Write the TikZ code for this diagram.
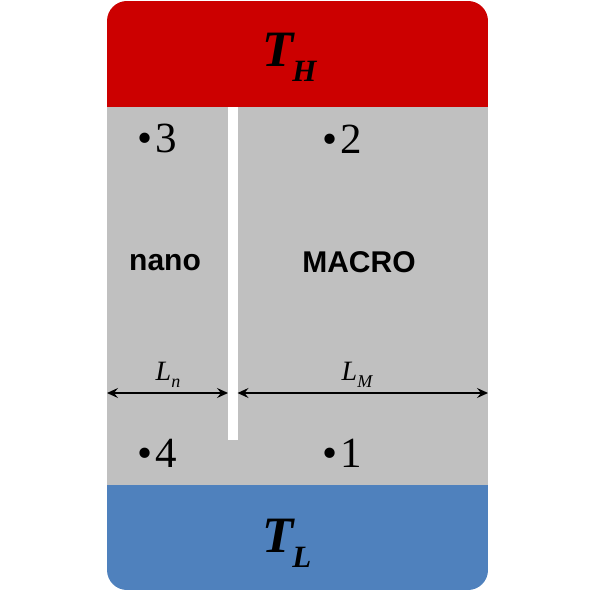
\documentclass[tikz,border=0pt]{standalone}
\usepackage{fontspec}
\setmainfont{Liberation Serif}
\setsansfont{Liberation Sans}
\usetikzlibrary{arrows.meta}
\definecolor{hotred}{HTML}{CC0000}
\definecolor{coldblue}{HTML}{4F81BD}
\definecolor{cellgray}{HTML}{C0C0C0}
\tikzset{
  dimarrow/.style={{Stealth[length=11pt,width=10pt,inset=4pt]}-{Stealth[length=11pt,width=10pt,inset=4pt]},
    line width=1.3pt, draw=black},
  templabel/.style={anchor=base west, inner sep=0pt,
    font=\fontsize{51}{51}\selectfont\bfseries\itshape},
  pointlabel/.style={anchor=base west, inner sep=0pt,
    font=\fontsize{43}{43}\selectfont},
  regionlabel/.style={anchor=base, inner sep=0pt,
    font=\fontsize{30}{30}\selectfont\sffamily\bfseries},
  lenlabel/.style={anchor=base, inner sep=0pt,
    font=\fontsize{28}{28}\selectfont\itshape}
}
\newcommand{\tsub}[1]{\kern-1pt\raisebox{-15pt}{\fontsize{31}{31}\selectfont #1}}
\newcommand{\lsub}[1]{\raisebox{-7pt}{\fontsize{18}{18}\selectfont #1}}

\begin{document}
\begin{tikzpicture}[x=1pt,y=-1pt]
  \useasboundingbox (0,0) rectangle (593,593);
  % reservoirs and cell
  \begin{scope}
    \clip[rounded corners=20pt] (107,1) rectangle (488,590);
    \fill[hotred] (107,1) rectangle (488,107);
    \fill[cellgray] (107,107) rectangle (488,485);
    \fill[coldblue] (107,485) rectangle (488,590);
  \end{scope}
  \fill[white] (228,107) rectangle (237.5,440);

  \node[templabel] (th) at (262,67) {T\tsub{H}};
  \node[templabel] (tl) at (262,552) {T\tsub{L}};

  \node[pointlabel] (p3) at (137,153) {•\kern3pt 3};
  \node[pointlabel] (p2) at (322,154) {•\kern3pt 2};
  \node[pointlabel] (p4) at (137,467) {•\kern3pt 4};
  \node[pointlabel] (p1) at (322,467) {•\kern3pt 1};

  \node[regionlabel] (nano) at (165,270) {nano};
  \node[regionlabel] (macro) at (359,272) {MACRO};

  % widths
  \coordinate (celll) at (107,393);
  \coordinate (wallw) at (228,393);
  \coordinate (walle) at (237.5,393);
  \coordinate (cellr) at (488,393);
  \draw[dimarrow] (celll) -- (wallw);
  \draw[dimarrow] (walle) -- (cellr);
  \node[lenlabel] (ln) at (168,380) {L\lsub{n}};
  \node[lenlabel] (lm) at (357,380) {L\lsub{M}};
\end{tikzpicture}
\end{document}
